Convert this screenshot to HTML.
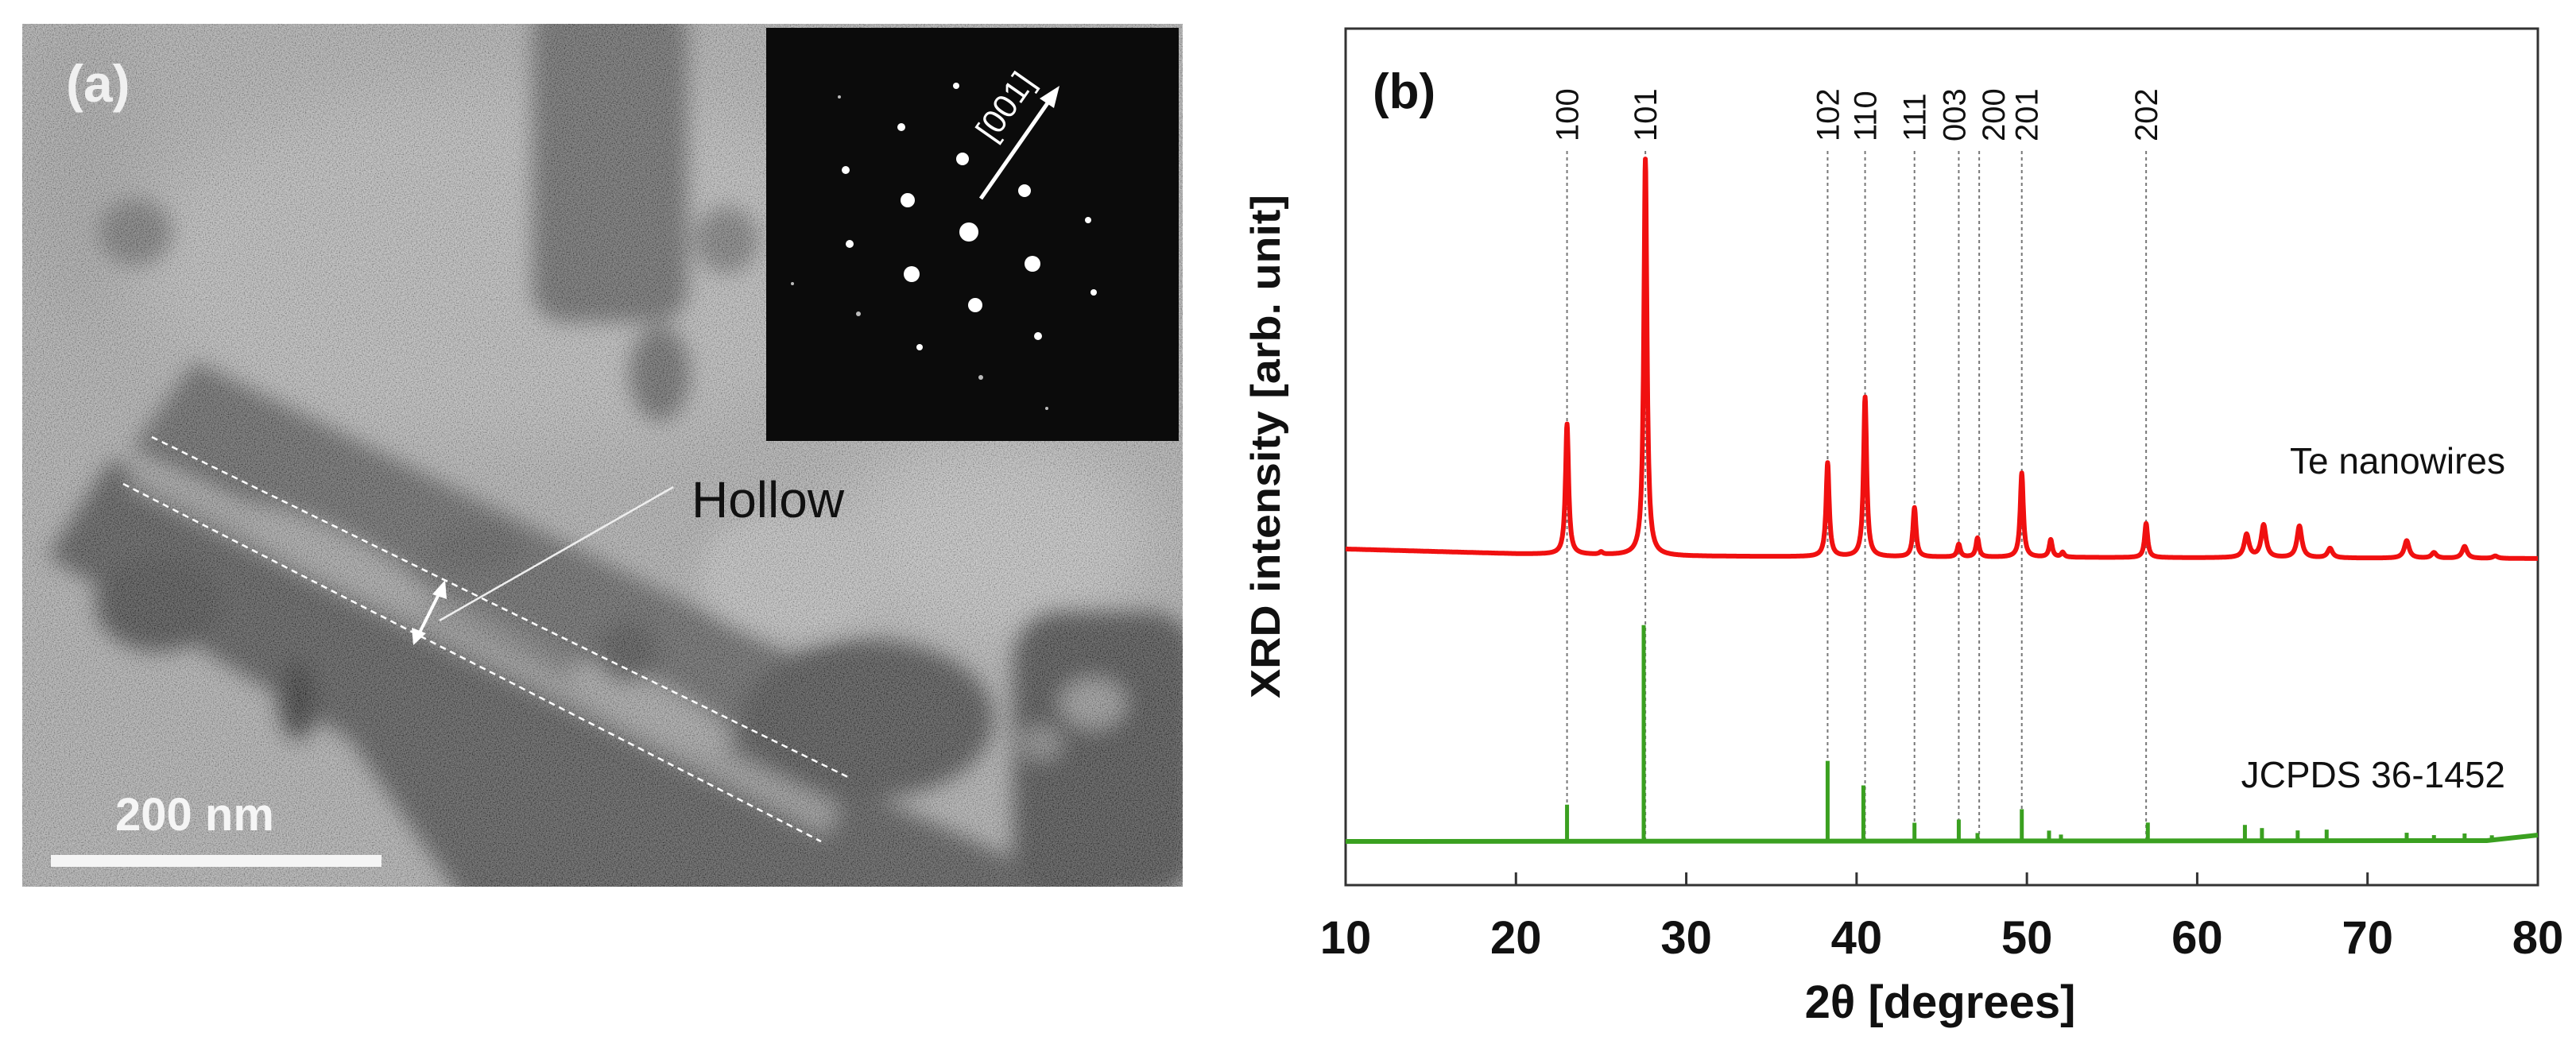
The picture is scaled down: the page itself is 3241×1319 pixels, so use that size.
<!DOCTYPE html>
<html><head><meta charset="utf-8"><style>
html,body{margin:0;padding:0;background:#fff;}
svg{display:block;}
text{font-family:"Liberation Sans",Arial,sans-serif;}
</style></head><body>
<svg id="fig" width="3241" height="1319" viewBox="0 0 3241 1319" xmlns="http://www.w3.org/2000/svg">
<defs>
  <filter id="blur20" x="-20%" y="-20%" width="140%" height="140%"><feGaussianBlur stdDeviation="13"/></filter>
  <filter id="blur40" x="-30%" y="-30%" width="160%" height="160%"><feGaussianBlur stdDeviation="40"/></filter>
  <filter id="noise" x="0" y="0" width="100%" height="100%">
    <feTurbulence type="fractalNoise" baseFrequency="0.7" numOctaves="2" seed="3"/>
    <feColorMatrix type="matrix" values="1.8 0 0 0 -0.4  1.8 0 0 0 -0.4  1.8 0 0 0 -0.4  0 0 0 0 0.35"/>
  </filter>
  <clipPath id="photoClip"><rect x="28" y="30" width="1460" height="1086"/></clipPath>
</defs>

<!-- Panel (a): TEM image -->
<g clip-path="url(#photoClip)">
  <rect x="28" y="30" width="1460" height="1086" fill="#a4a4a4"/>
  <g filter="url(#blur40)">
    <ellipse cx="650" cy="330" rx="480" ry="230" fill="#b2b2b2"/>
    <ellipse cx="1250" cy="680" rx="200" ry="130" fill="#bcbcbc"/>
    <ellipse cx="100" cy="200" rx="80" ry="200" fill="#9a9a9a"/>
  </g>
  <g filter="url(#blur20)">
    <ellipse cx="1000" cy="720" rx="120" ry="80" fill="#b8b8b8"/>
    <rect x="670" y="0" width="195" height="405" rx="40" fill="#555"/>
    <ellipse cx="830" cy="470" rx="38" ry="60" fill="#555"/>
    <ellipse cx="914" cy="302" rx="40" ry="42" fill="#6a6a6a"/>
    <ellipse cx="170" cy="292" rx="46" ry="42" fill="#666"/>
    <polygon points="245,455 1010,830 965,945 165,565" fill="#505050"/>
    <polygon points="140,578 1500,1180 1500,1330 720,1330 440,930 60,700" fill="#3e3e3e"/>
    <polygon points="175,585 1055,1015 1040,1050 160,610" fill="#8a8a8a"/>
    <ellipse cx="420" cy="700" rx="130" ry="30" transform="rotate(26 420 700)" fill="#999"/>
    <ellipse cx="820" cy="890" rx="110" ry="30" transform="rotate(26 820 890)" fill="#999"/>
    <ellipse cx="1090" cy="905" rx="160" ry="100" fill="#353535"/>
    <rect x="1275" y="770" width="230" height="360" rx="60" fill="#333"/>
    <ellipse cx="1375" cy="885" rx="40" ry="30" fill="#8a8a8a"/>
    <ellipse cx="1310" cy="935" rx="25" ry="20" fill="#7a7a7a"/>
    <ellipse cx="375" cy="880" rx="25" ry="50" fill="#1e1e1e"/>
    <ellipse cx="200" cy="760" rx="80" ry="60" fill="#303030"/>
    <ellipse cx="600" cy="690" rx="60" ry="30" fill="#454545"/>
    <ellipse cx="790" cy="820" rx="40" ry="40" fill="#383838"/>
  </g>
  <rect x="28" y="30" width="1460" height="1086" filter="url(#noise)"/>
  <line x1="191" y1="550" x2="1069" y2="979" stroke="#fff" stroke-width="2.5" stroke-dasharray="8 6"/>
  <line x1="155" y1="609" x2="1033" y2="1059" stroke="#fff" stroke-width="2.5" stroke-dasharray="8 6"/>
  <g stroke="#fff" stroke-width="4" fill="#fff">
    <line x1="555" y1="742" x2="526" y2="800"/>
    <polygon points="560,730 544,748 562,754" stroke="none"/>
    <polygon points="520,812 518,790 536,797" stroke="none"/>
  </g>
  <line x1="847" y1="613" x2="553" y2="781" stroke="#eee" stroke-width="2.5"/>
  <text x="966" y="651" font-size="64" fill="#111" text-anchor="middle">Hollow</text>
  <text x="83" y="128" font-size="66" font-weight="bold" fill="#f0f0f0">(a)</text>
  <text x="145" y="1045" font-size="58" font-weight="bold" fill="#f5f5f5">200 nm</text>
  <rect x="64" y="1076" width="416" height="15" fill="#f5f5f5"/>
</g>

<g>
  <rect x="964" y="35" width="519" height="520" fill="#0b0b0b"/>
  <g id="spots" fill="#fff"></g>
  <line x1="1234" y1="250" x2="1322" y2="124" stroke="#fff" stroke-width="5"/>
  <polygon points="1333,108 1308,124 1326,136" fill="#fff"/>
  <text x="1265" y="148" font-size="42" fill="#fff" text-anchor="middle" transform="rotate(-55 1265 134)">[001]</text>
</g>

<g id="chart">
  <rect x="1693" y="36" width="1500" height="1078" fill="#fff" stroke="#333" stroke-width="3"/>
  <g id="guides"></g>
  <g id="hkl"></g>
  <g id="green"></g>
  <path id="redPath" fill="none" stroke="#f01010" stroke-width="6" stroke-linejoin="round"/>
  <g id="ticks"></g>
  <text x="1727" y="136" font-size="62" font-weight="bold" fill="#111">(b)</text>
  <text x="3152" y="596" font-size="46" fill="#111" text-anchor="end">Te nanowires</text>
  <text x="3152" y="991" font-size="46" fill="#111" text-anchor="end">JCPDS 36-1452</text>
  <text x="2441" y="1281" font-size="58" font-weight="bold" fill="#111" text-anchor="middle">2θ [degrees]</text>
  <text x="1610" y="562" font-size="52" font-weight="bold" fill="#111" text-anchor="middle" textLength="634" lengthAdjust="spacingAndGlyphs" transform="rotate(-90 1610 562)">XRD intensity [arb. unit]</text>
</g>
</svg>
<script>
// ---- chart data ----
const xTicks = [10, 20, 30, 40, 50, 60, 70, 80];
const hklLabels = ["100","101","102","110","111","003","200","201","202"];
const hklPos = [23.0, 27.6, 38.3, 40.5, 43.4, 46.0, 47.2, 49.7, 57.0];
const redPeakPos = [23.0, 25.0, 27.6, 38.3, 40.5, 43.4, 46.0, 47.1, 49.7, 51.4, 52.1, 57.0, 62.9, 63.9, 66.0, 67.8, 72.3, 73.9, 75.7, 77.5];
const redPeakHeight = [328, 6, 998, 236, 402, 124, 32, 48, 212, 44, 12, 86, 58, 82, 80, 24, 44, 14, 30, 6];
const redBaseX = [10, 20, 30, 40, 60, 80];
const redBaseY = [846, 834, 828, 826, 824, 822];
const greenPos = [23.0, 27.5, 38.3, 40.4, 43.4, 46.0, 47.1, 49.7, 51.3, 52.0, 57.1, 62.8, 63.8, 65.9, 67.6, 72.3, 73.9, 75.7, 77.3];
const greenHeight = [92, 544, 202, 140, 46, 54, 20, 80, 26, 16, 46, 40, 32, 26, 28, 20, 14, 18, 12];
const greenBaseX = [10, 77, 80];
const greenBaseY = [110, 112, 126];
const spotX = [1219,1147,1299,1142,1289,1211,1227,1069,1064,1134,1203,1369,1376,1306,1157,1080,1234,997,1056,1317];
const spotY = [292,345,332,252,240,200,384,307,214,160,108,277,368,423,437,395,475,357,122,514];
const spotR = [12,10,10,9,8,8,9,5,5,5,4,4,4,5,4,3,3,2,2,2];

const NS = "http://www.w3.org/2000/svg";
const X0 = 1693, X1 = 3193, YB = 1114;
function xs(d){ return X0 + (d - 10) / 70 * (X1 - X0); }
function ys(v){ return YB - v * 0.5; }
function interp(xa, ya, x){
  for (let i = 0; i < xa.length - 1; i++){
    if (x <= xa[i+1]) { const t = (x - xa[i]) / (xa[i+1] - xa[i]); return ya[i] + t * (ya[i+1] - ya[i]); }
  }
  return ya[ya.length - 1];
}

const sg = document.getElementById('spots');
for (let i = 0; i < spotX.length; i++){
  const c = document.createElementNS(NS, 'circle');
  
  
  c.setAttribute('cx', spotX[i]); c.setAttribute('cy', spotY[i]); c.setAttribute('r', spotR[i]);
  c.setAttribute('fill', spotR[i] > 3 ? '#fff' : '#bbb');
  sg.appendChild(c);
}

const gg = document.getElementById('guides'), hg = document.getElementById('hkl');
for (let i = 0; i < hklPos.length; i++){
  const x = xs(hklPos[i]);
  const l = document.createElementNS(NS, 'line');
  
  
  l.setAttribute('x1', x); l.setAttribute('x2', x); l.setAttribute('y1', 190); l.setAttribute('y2', ys(110));
  l.setAttribute('stroke', '#777'); l.setAttribute('stroke-width', 2); l.setAttribute('stroke-dasharray', '4 4');
  gg.appendChild(l);
  let lx = x + 14;
  if (hklLabels[i] === '003') lx -= 6;
  if (hklLabels[i] === '200') lx += 18;
  if (hklLabels[i] === '201') lx += 6;
  const t = document.createElementNS(NS, 'text');
  
  
  t.setAttribute('x', lx); t.setAttribute('y', 178);
  t.setAttribute('font-size', 40); t.setAttribute('fill', '#111');
  t.setAttribute('transform', 'rotate(-90 ' + lx + ' 178)');
  t.textContent = hklLabels[i];
  hg.appendChild(t);
}

let d = '';
for (let deg = 10; deg <= 80.0001; deg += 0.02){
  let v = interp(redBaseX, redBaseY, deg);
  for (let k = 0; k < redPeakPos.length; k++){
    const w = redPeakPos[k] > 60 ? 0.17 : 0.11;
    const u = (deg - redPeakPos[k]) / w;
    v += redPeakHeight[k] / (1 + u * u);
  }
  d += (d ? 'L' : 'M') + xs(deg).toFixed(1) + ',' + ys(v).toFixed(1);
}
document.getElementById('redPath').setAttribute('d', d);

const grn = document.getElementById('green');
const bl = document.createElementNS(NS, 'polyline');


bl.setAttribute('points', greenBaseX.map((x, i) => xs(x) + ',' + ys(greenBaseY[i])).join(' '));
bl.setAttribute('fill', 'none'); bl.setAttribute('stroke', '#3aa020'); bl.setAttribute('stroke-width', 6);
grn.appendChild(bl);
for (let i = 0; i < greenPos.length; i++){
  const b = interp(greenBaseX, greenBaseY, greenPos[i]);
  const s = document.createElementNS(NS, 'line');
  
  
  s.setAttribute('x1', xs(greenPos[i])); s.setAttribute('x2', xs(greenPos[i]));
  s.setAttribute('y1', ys(b)); s.setAttribute('y2', ys(b + greenHeight[i]));
  s.setAttribute('stroke', '#3aa020'); s.setAttribute('stroke-width', 5);
  grn.appendChild(s);
}

const tg = document.getElementById('ticks');
for (let i = 0; i < xTicks.length; i++){
  const x = xs(xTicks[i]);
  if (xTicks[i] > 10 && xTicks[i] < 80){
    const tk = document.createElementNS(NS, 'line');
    
    
    tk.setAttribute('x1', x); tk.setAttribute('x2', x); tk.setAttribute('y1', YB); tk.setAttribute('y2', YB - 16);
    tk.setAttribute('stroke', '#333'); tk.setAttribute('stroke-width', 3);
    tg.appendChild(tk);
  }
  const lb = document.createElementNS(NS, 'text');
  
  
  lb.setAttribute('x', x); lb.setAttribute('y', 1200);
  lb.setAttribute('font-size', 58); lb.setAttribute('font-weight', 'bold');
  lb.setAttribute('text-anchor', 'middle'); lb.setAttribute('fill', '#111');
  lb.textContent = xTicks[i];
  tg.appendChild(lb);
}
</script>
</body></html>
